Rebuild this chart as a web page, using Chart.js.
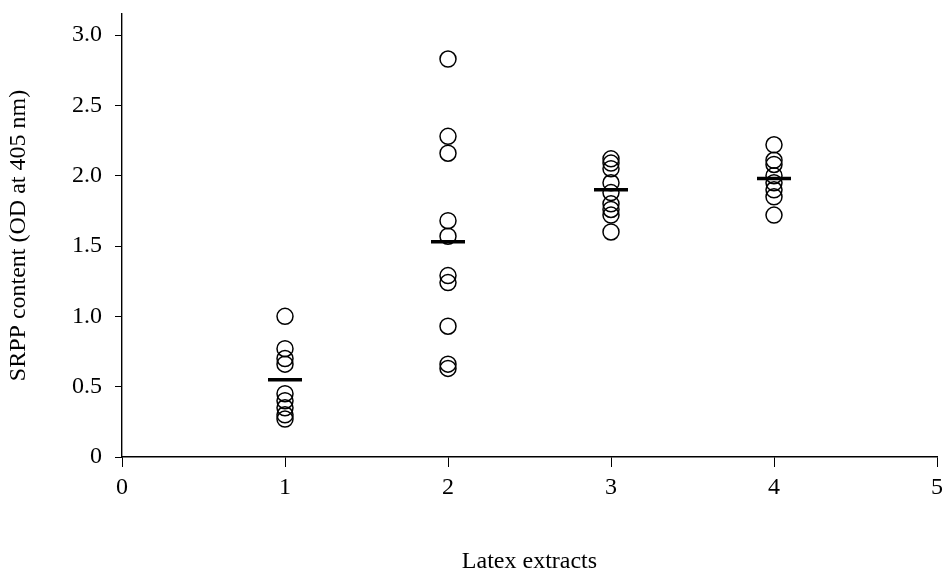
<!DOCTYPE html>
<html>
<head>
<meta charset="utf-8">
<script src="https://cdn.jsdelivr.net/npm/chart.js@4/dist/chart.umd.min.js"></script>
<style>
  html, body { margin: 0; padding: 0; background: #fff; overflow: hidden; }
  #wrap { width: 946px; height: 574px; }
  #srppChart { display: block; }
</style>
</head>
<body>
<div id="wrap"><canvas id="srppChart"></canvas></div>
<script>
// values
const extract1 = [1.00, 0.77, 0.70, 0.66, 0.45, 0.40, 0.35, 0.30, 0.27];
const extract2 = [2.83, 2.28, 2.16, 1.68, 1.57, 1.29, 1.24, 0.93, 0.66, 0.63];
const extract3 = [2.12, 2.09, 2.05, 1.95, 1.88, 1.80, 1.76, 1.72, 1.60];
const extract4 = [2.22, 2.11, 2.08, 2.00, 1.95, 1.90, 1.85, 1.72];
const groups = [1, 2, 3, 4];
const means = [0.55, 1.53, 1.90, 1.98];
const xTicks = [0, 1, 2, 3, 4, 5];
const yTicks = [0, 0.5, 1.0, 1.5, 2.0, 2.5, 3.0];

const allGroups = [extract1, extract2, extract3, extract4];
const pointData = [];
allGroups.forEach((vals, i) => {
    vals.forEach(v => pointData.push({ x: groups[i], y: v }));
});
const meanData = groups.map((g, i) => ({ x: g, y: means[i] }));

const serif = "'Liberation Serif', 'DejaVu Serif', serif";

var ctx = document.getElementById('srppChart').getContext('2d');
var myChart = new Chart(ctx, {
    type: 'scatter',
    data: {
        datasets: [
            {
                label: 'SRPP',
                data: pointData,
                pointStyle: 'circle',
                pointRadius: 8,
                borderColor: '#000',
                borderWidth: 1.5,
                backgroundColor: 'rgba(0,0,0,0)'
            },
            {
                label: 'Mean',
                data: meanData,
                pointStyle: 'line',
                pointRadius: 17,
                borderColor: '#000',
                borderWidth: 3.5
            }
        ]
    },
    options: {
        responsive: true,
        maintainAspectRatio: false,
        animation: false,
        layout: { autoPadding: false, padding: { top: 14, right: 9, bottom: 0, left: 0 } },
        scales: {
            x: {
                type: 'linear',
                min: 0,
                max: 5,
                afterBuildTicks: function(scale) {
                    scale.ticks = xTicks.map(v => ({ value: v }));
                },
                afterFit: function(scale) {
                    scale.height = 574 - 457;
                    scale.paddingLeft = 0;
                    scale.paddingRight = 0;
                },
                border: { display: true, color: '#000', width: 1.4 },
                grid: { drawOnChartArea: false, drawTicks: true, tickLength: 10, color: '#000' },
                ticks: {
                    color: '#000',
                    padding: 6,
                    font: { family: serif, size: 24 },
                    callback: function(value) { return String(value); }
                },
                title: {
                    display: true,
                    text: 'Latex extracts',
                    color: '#000',
                    font: { family: serif, size: 24 },
                    padding: { top: 0, bottom: -2 }
                }
            },
            y: {
                type: 'linear',
                min: 0,
                max: 3.15,
                afterBuildTicks: function(scale) {
                    scale.ticks = yTicks.map(v => ({ value: v }));
                },
                afterFit: function(scale) {
                    scale.width = 122;
                    scale.paddingTop = 0;
                    scale.paddingBottom = 0;
                },
                border: { display: true, color: '#000', width: 1.4 },
                grid: { drawOnChartArea: false, drawTicks: true, tickLength: 7, color: '#000' },
                ticks: {
                    color: '#000',
                    padding: 13,
                    font: { family: serif, size: 24 },
                    callback: function(value) {
                        return value === 0 ? '0' : value.toFixed(1);
                    }
                },
                title: {
                    display: true,
                    text: 'SRPP content (OD at 405 nm)',
                    color: '#000',
                    font: { family: serif, size: 24 },
                    padding: { top: 4, bottom: 0 }
                }
            }
        },
        plugins: {
            legend: { display: false },
            tooltip: { enabled: false }
        }
    }
});
</script>
</body>
</html>
